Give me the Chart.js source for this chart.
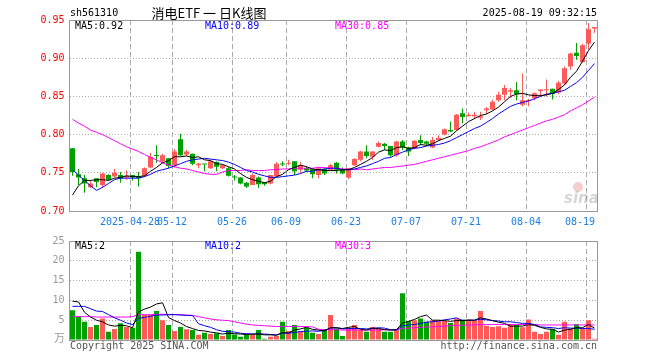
<!DOCTYPE html>
<html>
<head>
<meta charset="utf-8">
<script src="https://cdn.jsdelivr.net/npm/chart.js@4.4.1/dist/chart.umd.min.js"></script>
<style>
    html, body { margin: 0; padding: 0; background: #fff; }
    #wrap { position: relative; width: 660px; height: 360px; }
    #priceBox { position: absolute; left: 0; top: 0; width: 660px; height: 230px; }
    #volBox { position: absolute; left: 0; top: 230px; width: 660px; height: 130px; }
</style>
</head>
<body>
<div id="wrap">
    <div id="priceBox"><canvas id="priceChart"></canvas></div>
    <div id="volBox"><canvas id="volChart"></canvas></div>
</div>
<script>
// trading days shown (2025)
const dates = [
    '04-14','04-15','04-16','04-17','04-18','04-21','04-22','04-23','04-24','04-25',
    '04-28','04-29','04-30','05-06','05-07','05-08','05-09','05-12','05-13','05-14',
    '05-15','05-16','05-19','05-20','05-21','05-22','05-23','05-26','05-27','05-28',
    '05-29','05-30','06-03','06-04','06-05','06-06','06-09','06-10','06-11','06-12',
    '06-13','06-16','06-17','06-18','06-19','06-20','06-23','06-24','06-25','06-26',
    '06-27','06-30','07-01','07-02','07-03','07-04','07-07','07-08','07-09','07-10',
    '07-11','07-14','07-15','07-16','07-17','07-18','07-21','07-22','07-23','07-24',
    '07-25','07-28','07-29','07-30','07-31','08-01','08-04','08-05','08-06','08-07',
    '08-08','08-11','08-12','08-13','08-14','08-15','08-18','08-19'
];

const openP = [
    0.782,0.748,0.743,0.731,0.743,0.734,0.747,0.745,0.747,0.744,
    0.747,0.745,0.746,0.757,0.772,0.765,0.769,0.760,0.794,0.774,
    0.775,0.760,0.761,0.756,0.764,0.756,0.756,0.745,0.744,0.737,
    0.734,0.744,0.738,0.736,0.745,0.762,0.762,0.765,0.754,0.756,
    0.755,0.747,0.755,0.754,0.763,0.754,0.744,0.760,0.767,0.778,
    0.771,0.784,0.788,0.785,0.773,0.791,0.783,0.782,0.793,0.791,
    0.783,0.793,0.800,0.806,0.806,0.828,0.824,0.824,0.822,0.832,
    0.833,0.845,0.852,0.856,0.858,0.839,0.844,0.848,0.857,0.858,
    0.860,0.855,0.867,0.889,0.907,0.895,0.919,0.939
];
const highP = [
    0.782,0.755,0.747,0.740,0.743,0.750,0.748,0.755,0.751,0.753,
    0.747,0.751,0.757,0.776,0.786,0.775,0.769,0.781,0.801,0.780,
    0.775,0.763,0.761,0.767,0.765,0.761,0.758,0.747,0.744,0.738,
    0.749,0.745,0.738,0.747,0.764,0.765,0.767,0.765,0.764,0.758,
    0.756,0.758,0.756,0.762,0.764,0.757,0.756,0.769,0.779,0.786,
    0.778,0.791,0.789,0.785,0.792,0.793,0.784,0.793,0.799,0.792,
    0.797,0.799,0.808,0.817,0.827,0.834,0.829,0.830,0.830,0.836,
    0.846,0.856,0.865,0.861,0.869,0.880,0.847,0.855,0.859,0.872,
    0.860,0.870,0.889,0.907,0.920,0.919,0.946,0.941
];
const lowP = [
    0.746,0.734,0.724,0.730,0.731,0.730,0.740,0.744,0.737,0.741,
    0.740,0.732,0.745,0.756,0.763,0.763,0.756,0.757,0.772,0.772,
    0.760,0.756,0.752,0.755,0.752,0.755,0.745,0.740,0.735,0.730,
    0.734,0.730,0.733,0.735,0.745,0.759,0.760,0.747,0.750,0.751,
    0.743,0.743,0.747,0.753,0.749,0.748,0.742,0.759,0.765,0.769,
    0.767,0.783,0.780,0.771,0.771,0.780,0.772,0.781,0.786,0.785,
    0.782,0.792,0.799,0.803,0.805,0.815,0.824,0.820,0.819,0.827,
    0.832,0.843,0.845,0.848,0.845,0.837,0.837,0.845,0.850,0.850,
    0.846,0.853,0.865,0.885,0.898,0.894,0.911,0.933
];
const closeP = [
    0.751,0.744,0.736,0.736,0.738,0.749,0.741,0.750,0.743,0.746,
    0.744,0.743,0.756,0.771,0.772,0.773,0.759,0.778,0.773,0.778,
    0.762,0.762,0.761,0.765,0.758,0.760,0.746,0.744,0.736,0.732,
    0.747,0.735,0.735,0.747,0.762,0.761,0.763,0.752,0.760,0.753,
    0.748,0.756,0.749,0.760,0.754,0.749,0.756,0.768,0.778,0.772,
    0.778,0.789,0.785,0.773,0.791,0.783,0.778,0.792,0.789,0.788,
    0.793,0.796,0.807,0.804,0.826,0.823,0.826,0.826,0.824,0.834,
    0.843,0.852,0.861,0.858,0.853,0.845,0.845,0.854,0.859,0.859,
    0.853,0.868,0.887,0.906,0.903,0.917,0.938,0.941
];

// price moving averages as drawn on the chart
const ma5 = [
    0.721,0.733,0.740,0.740,0.741,0.741,0.740,0.743,0.744,0.746,
    0.745,0.745,0.746,0.752,0.757,0.763,0.766,0.771,0.771,0.772,
    0.770,0.771,0.767,0.766,0.762,0.761,0.758,0.755,0.749,0.744,
    0.741,0.739,0.737,0.739,0.745,0.748,0.754,0.757,0.760,0.758,
    0.755,0.754,0.753,0.753,0.753,0.754,0.754,0.757,0.761,0.765,
    0.770,0.777,0.780,0.779,0.783,0.784,0.782,0.783,0.787,0.786,
    0.788,0.792,0.795,0.798,0.805,0.811,0.817,0.821,0.825,0.827,
    0.831,0.836,0.843,0.850,0.853,0.854,0.852,0.851,0.851,0.852,
    0.854,0.859,0.865,0.875,0.883,0.896,0.910,0.921
];
const ma10 = [
    0.754,0.747,0.740,0.733,0.727,0.731,0.736,0.741,0.743,0.743,
    0.743,0.743,0.745,0.748,0.752,0.754,0.756,0.759,0.762,0.765,
    0.767,0.768,0.769,0.768,0.767,0.766,0.764,0.761,0.757,0.753,
    0.751,0.748,0.746,0.744,0.744,0.745,0.746,0.747,0.749,0.752,
    0.752,0.754,0.755,0.756,0.756,0.754,0.754,0.755,0.757,0.759,
    0.762,0.765,0.769,0.770,0.774,0.777,0.780,0.782,0.783,0.785,
    0.786,0.787,0.789,0.792,0.796,0.800,0.804,0.808,0.811,0.816,
    0.821,0.827,0.832,0.837,0.840,0.842,0.844,0.847,0.850,0.853,
    0.854,0.856,0.858,0.863,0.868,0.875,0.884,0.893
];
const ma30 = [
    0.820,0.815,0.811,0.806,0.803,0.800,0.796,0.792,0.788,0.784,
    0.781,0.778,0.774,0.770,0.767,0.763,0.760,0.758,0.756,0.755,
    0.753,0.751,0.749,0.748,0.748,0.751,0.753,0.753,0.753,0.754,
    0.753,0.753,0.753,0.754,0.754,0.755,0.755,0.756,0.756,0.756,
    0.756,0.757,0.757,0.756,0.756,0.755,0.755,0.754,0.755,0.754,
    0.755,0.756,0.757,0.757,0.758,0.759,0.760,0.761,0.763,0.765,
    0.767,0.769,0.771,0.773,0.775,0.777,0.779,0.782,0.784,0.787,
    0.790,0.793,0.797,0.800,0.803,0.806,0.809,0.812,0.815,0.818,
    0.820,0.823,0.826,0.831,0.835,0.839,0.844,0.849
];

// volume in 万
const volume = [
    7.5,6.0,4.6,3.3,3.8,5.4,2.1,2.8,4.2,3.3,
    3.1,22.3,6.3,6.3,7.3,5.0,3.8,2.3,3.3,2.7,
    2.5,1.3,1.8,1.5,1.7,1.0,2.5,1.4,0.8,1.4,
    1.4,2.5,0.3,0.8,1.1,4.6,2.3,3.8,2.3,3.1,
    1.8,1.5,2.8,6.3,2.9,1.0,3.1,3.8,2.5,2.1,
    3.3,2.9,2.1,2.1,2.5,11.8,4.8,5.0,5.4,4.6,
    5.0,4.8,4.8,4.3,5.4,5.2,5.2,5.0,7.3,3.6,
    3.3,3.5,3.1,4.0,3.8,3.2,5.2,2.1,1.5,2.1,
    2.8,1.3,4.6,2.9,4.0,2.9,5.0,0.3
];
const vma5 = [
    9.8,9.6,7.0,5.8,5.0,4.6,3.8,3.5,3.7,3.6,
    3.1,7.1,7.8,8.3,9.1,9.4,5.7,4.9,4.3,3.4,
    2.9,2.4,2.3,2.0,1.8,1.5,1.7,1.6,1.5,1.4,
    1.5,1.5,1.3,1.3,1.2,1.9,1.8,2.5,2.8,3.2,
    2.7,2.5,2.3,3.1,3.1,2.9,3.2,3.4,2.7,2.5,
    3.0,2.9,2.6,2.5,2.6,4.3,4.7,5.2,5.9,6.3,
    5.0,5.0,4.9,4.7,4.9,4.9,5.0,5.0,5.6,5.3,
    4.9,4.5,4.2,3.5,3.5,3.5,3.9,3.7,3.2,2.8,
    2.7,2.0,2.5,2.7,3.1,3.1,3.9,3.0
];
const vma10 = [
    8.5,8.5,8.5,7.9,7.3,7.2,6.4,5.6,5.0,4.3,
    3.9,5.5,5.7,6.0,6.3,6.3,6.4,6.4,6.3,6.2,
    6.2,4.1,3.6,3.2,2.6,2.2,2.1,2.0,1.7,1.6,
    1.5,1.6,1.5,1.4,1.3,1.7,1.7,1.9,2.1,2.2,
    2.3,2.2,2.4,3.0,3.1,2.8,2.9,2.9,2.9,2.8,
    2.9,3.1,3.0,2.6,2.5,3.6,3.8,3.9,4.2,4.5,
    4.6,4.8,5.1,5.3,5.6,4.9,5.0,5.0,5.2,5.1,
    4.9,4.8,4.6,4.6,4.4,4.2,4.2,3.9,3.3,3.2,
    3.1,2.9,3.1,3.0,3.0,2.9,2.9,2.7
];
const vma30 = [
    6.0,5.9,5.9,5.9,5.8,5.8,5.8,5.8,5.8,5.8,
    5.9,6.4,6.4,6.4,6.5,6.5,6.4,6.4,6.4,6.3,
    6.2,5.9,5.6,5.3,5.1,5.0,4.9,4.6,4.3,4.0,
    3.8,3.7,3.6,3.5,3.4,3.4,3.4,3.4,3.4,3.4,
    3.3,2.7,2.6,2.6,2.6,2.5,2.5,2.5,2.5,2.5,
    2.5,2.5,2.6,2.6,2.6,2.9,3.0,3.1,3.2,3.3,
    3.3,3.4,3.5,3.6,3.7,3.7,3.8,3.8,3.9,3.9,
    3.9,3.9,3.9,3.9,3.9,3.9,3.9,3.9,3.8,3.8,
    3.8,3.8,3.8,3.8,3.8,3.8,3.8,3.8
];

// date labels under the candles (index into dates)
const tickIdx = [10, 17, 27, 36, 46, 56, 66, 76, 86];
const tickText = ['2025-04-28', '05-12', '05-26', '06-09', '06-23', '07-07', '07-21', '08-04', '08-19'];

const RED = '#ff5a5a';
const GREEN = '#00a000';
const MONO = '10px "DejaVu Sans Mono", monospace';
const candleColor = closeP.map((c, i) => c > openP[i] ? RED : GREEN);

// fixed left axis width so both panels line up
function fixWidth(scale) { scale.width = 69.5; }

function drawFrame(chart) {
    const { ctx, chartArea: a, scales: { x } } = chart;
    ctx.save();
    ctx.strokeStyle = '#aaa';
    ctx.lineWidth = 1;
    ctx.setLineDash([5, 3]);
    tickIdx.forEach(i => {
        const px = Math.round(x.getPixelForValue(i) - 3) + 0.5;
        ctx.beginPath();
        ctx.moveTo(px, a.top);
        ctx.lineTo(px, a.bottom);
        ctx.stroke();
    });
    ctx.restore();
}

function drawBorder(chart) {
    const { ctx, chartArea: a } = chart;
    ctx.save();
    ctx.strokeStyle = '#999';
    ctx.lineWidth = 1;
    ctx.strokeRect(Math.round(a.left) - 0.5, Math.round(a.top) + 0.5,
        Math.round(a.right - a.left), Math.round(a.bottom - a.top));
    ctx.restore();
}

function text(ctx, s, x, y, color, font, align) {
    ctx.fillStyle = color;
    ctx.font = font;
    ctx.textAlign = align || 'left';
    ctx.textBaseline = 'middle';
    ctx.fillText(s, x, y);
}

const pricePlugin = {
    id: 'priceDecor',
    beforeDatasetsDraw: drawFrame,
    afterDraw(chart) {
        const { ctx, scales: { x } } = chart;
        drawBorder(chart);
        ctx.save();
        text(ctx, 'sh561310', 70, 13, '#000', MONO);
        text(ctx, '消电ETF 一 日K线图', 209, 13, '#000', '13px "Noto Sans CJK SC"', 'center');
        text(ctx, '2025-08-19 09:32:15', 597, 13, '#000', MONO, 'right');
        text(ctx, 'MA5:0.92', 75, 26, '#000', MONO);
        text(ctx, 'MA10:0.89', 205, 26, '#0000ff', MONO);
        text(ctx, 'MA30:0.85', 335, 26, '#ff00ff', MONO);
        tickIdx.forEach((i, k) => {
            const px = Math.round(x.getPixelForValue(i) - 3);
            const last = k === tickIdx.length - 1;
            text(ctx, tickText[k], last ? 595 : px, 222, '#1f7fe0', MONO, last ? 'right' : 'center');
        });
        // sina watermark
        ctx.globalAlpha = 0.35;
        ctx.fillStyle = '#e07070';
        ctx.beginPath();
        ctx.arc(578, 187, 5, 0, Math.PI * 2);
        ctx.fill();
        text(ctx, 'sina', 564, 199, '#888', 'italic bold 15px "DejaVu Sans"');
        ctx.restore();
    }
};

const volPlugin = {
    id: 'volDecor',
    beforeDatasetsDraw: drawFrame,
    afterDraw(chart) {
        const { ctx } = chart;
        drawBorder(chart);
        ctx.save();
        text(ctx, 'MA5:2', 75, 16, '#000', MONO);
        text(ctx, 'MA10:2', 205, 16, '#0000ff', MONO);
        text(ctx, 'MA30:3', 335, 16, '#ff00ff', MONO);
        text(ctx, '万', 65, 108, '#999', '11px "Noto Sans CJK SC"', 'right');
        text(ctx, 'Copyright 2025 SINA.COM', 70, 116, '#555', MONO);
        text(ctx, 'http://finance.sina.com.cn', 597, 116, '#555', MONO, 'right');
        ctx.restore();
    }
};

function lineSet(label, data, color) {
    return {
        type: 'line', label, data, borderColor: color, borderWidth: 1,
        pointRadius: 0, tension: 0, fill: false, order: 0
    };
}

function baseOptions(yOpts, padding) {
    return {
        responsive: true,
        maintainAspectRatio: false,
        animation: false,
        events: [],
        devicePixelRatio: 1,
        layout: { padding },
        plugins: { legend: { display: false }, tooltip: { enabled: false } },
        scales: {
            x: { type: 'category', display: false, offset: true },
            y: Object.assign({
                position: 'left',
                afterFit: fixWidth,
                grid: { color: '#aaa', drawTicks: false },
                border: { display: false, dash: [1, 2] }
            }, yOpts)
        }
    };
}

new Chart(document.getElementById('priceChart'), {
    type: 'bar',
    data: {
        labels: dates,
        datasets: [
            lineSet('MA5', ma5, '#000000'),
            lineSet('MA10', ma10, '#0000ff'),
            lineSet('MA30', ma30, '#ff00ff'),
            {
                label: 'body',
                data: openP.map((o, i) => [o, closeP[i]]),
                backgroundColor: candleColor,
                barThickness: 5, minBarLength: 1, grouped: false, inflateAmount: 0, order: 1
            },
            {
                label: 'wick',
                data: lowP.map((l, i) => [l, highP[i]]),
                backgroundColor: candleColor,
                barThickness: 1, grouped: false, inflateAmount: 0, order: 2
            }
        ]
    },
    options: baseOptions({
        min: 0.70, max: 0.95,
        ticks: { stepSize: 0.05, color: '#ff0000', font: { family: 'DejaVu Sans Mono', size: 10 },
                 padding: 5, callback: v => v.toFixed(2) }
    }, { top: 20, right: 62.5, bottom: 19, left: 0 }),
    plugins: [pricePlugin]
});

new Chart(document.getElementById('volChart'), {
    type: 'bar',
    data: {
        labels: dates,
        datasets: [
            lineSet('MA5', vma5, '#000000'),
            lineSet('MA10', vma10, '#0000ff'),
            lineSet('MA30', vma30, '#ff00ff'),
            {
                label: 'volume',
                data: volume,
                backgroundColor: candleColor,
                barThickness: 5, grouped: false, inflateAmount: 0, order: 1
            }
        ]
    },
    options: baseOptions({
        min: 0, max: 25,
        ticks: { stepSize: 5, color: '#999', font: { family: 'DejaVu Sans Mono', size: 10 },
                 padding: 5, callback: v => v === 0 ? '' : v }
    }, { top: 10, right: 62.5, bottom: 20, left: 0 }),
    plugins: [volPlugin]
});
</script>
</body>
</html>
